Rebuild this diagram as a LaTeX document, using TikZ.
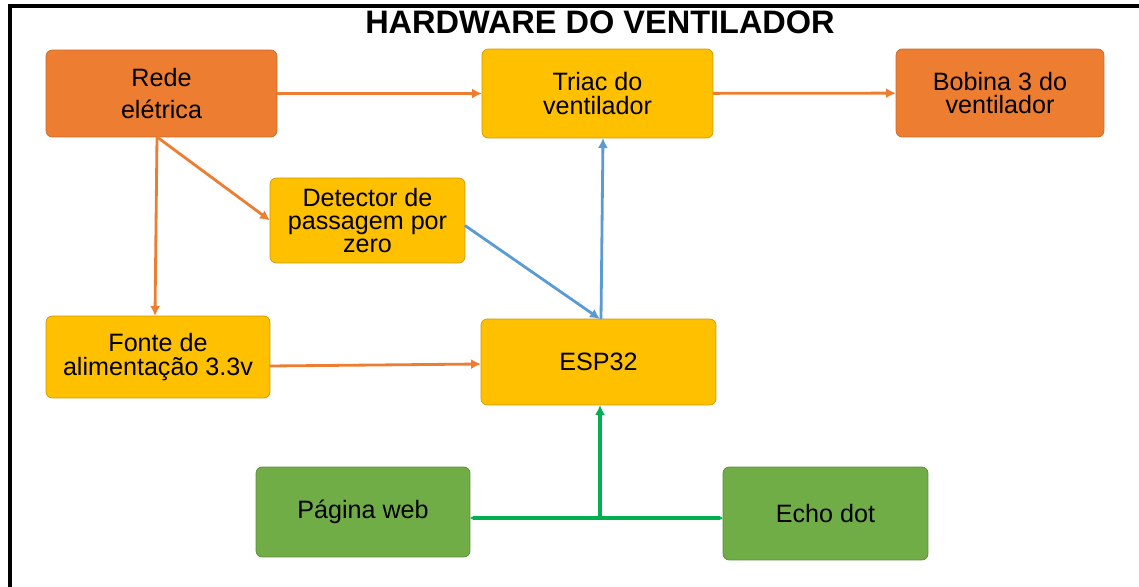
\documentclass[tikz,border=0pt]{standalone}
\usepackage{fontspec}
\setmainfont{Liberation Sans}
\usetikzlibrary{arrows.meta, positioning, calc}
\definecolor{redeorange}{HTML}{ED7D31}
\definecolor{triacyellow}{HTML}{FFC000}
\definecolor{webgreen}{HTML}{70AD47}
\definecolor{sigblue}{HTML}{5B9BD5}
\definecolor{netgreen}{HTML}{00B050}

\begin{document}
\begin{tikzpicture}[
  x=0.02cm, y=-0.02cm,
  box/.style={rounded corners=3.5pt, inner sep=2pt, outer sep=0pt, align=center, font=\fontsize{14.3}{13.2}\selectfont},
  power/.style={box, fill=redeorange, draw=redeorange!85!black, line width=0.4pt},
  logic/.style={box, fill=triacyellow, draw=triacyellow!80!black, line width=0.4pt},
  user/.style={box, fill=webgreen, draw=webgreen!80!black, line width=0.4pt},
  arr/.style={-{Latex[length=2mm, width=2mm]}, line width=1.6pt},
  pwr/.style={arr, color=redeorange},
  sig/.style={arr, color=sigblue},
  net/.style={line width=1.9pt, color=netgreen}
]
\useasboundingbox (0,0) rectangle (1139,587);
% moldura
\draw[line width=2.3pt] (10,587) -- (10,6) -- (1139,6);
\node[font=\bfseries\fontsize{18.5}{20}\selectfont] (title) at (600,22) {HARDWARE DO VENTILADOR};

\node[power, minimum width=4.62cm, minimum height=1.74cm] (rede) at (161.5,93.5) {Rede\\[4.8pt] elétrica};
\node[logic, minimum width=4.62cm, minimum height=1.78cm] (triac) at (597.5,93.5) {Triac do\\ ventilador};
\node[power, minimum width=4.16cm, minimum height=1.76cm] (bobina) at (1000,93) {Bobina 3 do\\ ventilador};
\node[logic, minimum width=3.9cm, minimum height=1.7cm] (detector) at (367.5,220.5) {Detector de\\ passagem por\\ zero};
\node[logic, minimum width=4.48cm, minimum height=1.64cm] (fonte) at (158,357) {Fonte de\\ alimentação 3.3v};
\node[logic, minimum width=4.7cm, minimum height=1.72cm] (esp) at (598.5,362) {ESP32};
\node[user, minimum width=4.28cm, minimum height=1.8cm] (pagina) at (363,512) {Página web};
\node[user, minimum width=4.1cm, minimum height=1.86cm] (echo) at (825.5,513.5) {Echo dot};

% rede eletrica
\draw[pwr] (rede) -- (triac);
\draw[pwr] (triac) -- (bobina);
\draw[pwr] ([xshift=-0.09cm]rede.south) -- (detector.west);
\draw[pwr] ([xshift=-0.09cm]rede.south) -- ([xshift=-0.06cm]fonte.north);
\draw[pwr] ([yshift=-0.18cm]fonte.east) -- ([yshift=-0.04cm]esp.west);

% sinais
\draw[sig] ([yshift=-0.1cm]detector.east) -- ([xshift=0.03cm]esp.north);
\draw[sig] ([xshift=0.05cm]esp.north) -- ([xshift=0.11cm]triac.south);

% comunicacao
\coordinate (hub) at (600,518);
\draw[net, {Latex[length=0.8mm, width=1mm]}-{Latex[length=0.8mm, width=1mm]}] (pagina.east |- hub) -- (hub) -- (echo.west |- hub);
\draw[net, -{Latex[length=2mm, width=2mm]}] (hub) -- (esp.south -| hub);
\end{tikzpicture}
\end{document}
